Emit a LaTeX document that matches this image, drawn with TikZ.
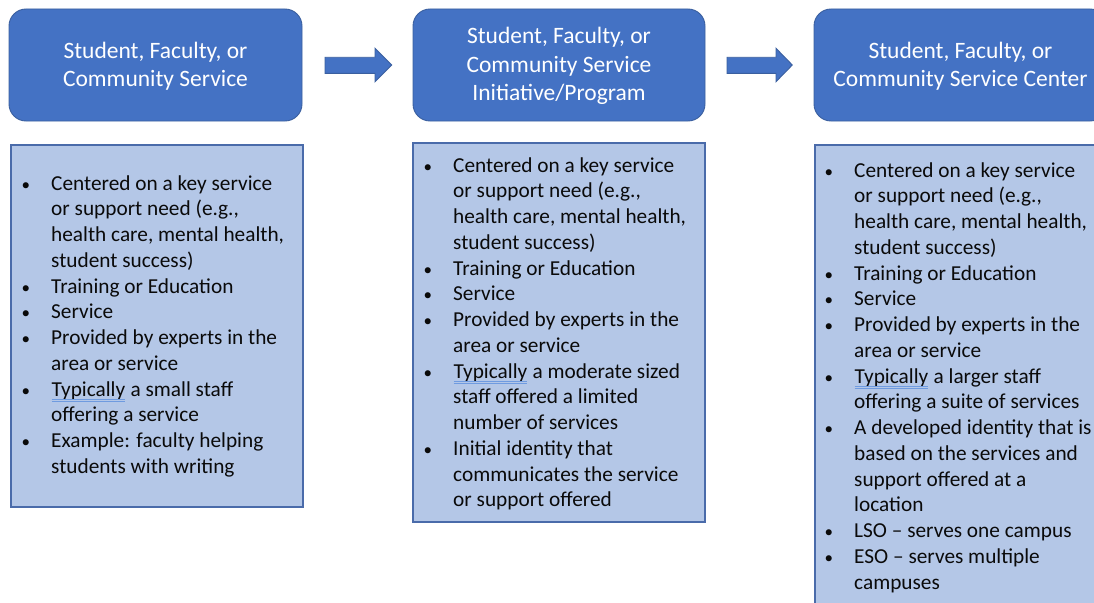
\documentclass[tikz,border=0pt]{standalone}
\usepackage{fontspec}
\setmainfont{Carlito}
\usepackage{array}
\definecolor{hdfill}{HTML}{4472C4}
\definecolor{hdline}{HTML}{3A5F9F}
\definecolor{bdfill}{HTML}{B4C7E7}
\definecolor{bdline}{HTML}{4A6BAA}
\definecolor{txt}{HTML}{0A0A0A}
\definecolor{spell}{HTML}{6F9BE0}
\tikzset{
  header/.style={draw=hdline, line width=0.9pt, fill=hdfill, rounded corners=17pt},
  body/.style={draw=bdline, line width=1.2pt, fill=bdfill},
  htext/.style={text=white, align=center, font=\fontsize{23.5}{28.5}\selectfont, inner sep=0pt},
  btext/.style={text=txt, anchor=north west, inner sep=0pt, font=\fontsize{21.3}{25.75}\selectfont},
  blockarrow/.style={draw=hdline, line width=0.9pt, fill=hdfill},
}
\newcommand{\spellu}[1]{\tikz[baseline=(w.base)]{\node[inner sep=0pt] (w) {#1};
  \draw[spell, line width=0.6pt] ([yshift=-3.2pt]w.base west) -- ([yshift=-3.2pt]w.base east);
  \draw[spell, line width=0.6pt] ([yshift=-4.6pt]w.base west) -- ([yshift=-4.6pt]w.base east);}}
\newcommand{\bl}{\makebox[29.5pt][l]{\scalebox{0.8}{•}}}
\begin{document}
\begin{tikzpicture}[x=1pt, y=-1pt]
\useasboundingbox (0,0) rectangle (1094,602);
\clip (0,0) rectangle (1094,602);
% header boxes
\draw[header] (9,9) rectangle (302,121);
\node[htext] (h1) at (155.5,66) {Student, Faculty, or\\Community Service};
\draw[header] (413,9) rectangle (705,121);
\node[htext] (h2) at (559,66) {Student, Faculty, or\\Community Service\\Initiative/Program};
\draw[header] (814,9) rectangle (1107,121);
\node[htext] (h3) at (960.5,66) {Student, Faculty, or\\Community Service Center};
% arrows
\draw[blockarrow] (325,57.3) -- (375,57.3) -- (375,48.3) -- (391.7,65) -- (375,81.7) -- (375,73.3) -- (325,73.3) -- cycle;
\draw[blockarrow] (727,57.3) -- (776,57.3) -- (776,48.3) -- (792.3,65) -- (776,81.7) -- (776,73.3) -- (727,73.3) -- cycle;
% body boxes
\draw[body] (11,145) rectangle (303,507);
\draw[body] (413,143) rectangle (705,522);
\draw[body] (815,145) rectangle (1107,640);
\node[btext] (b1) at (21.5,172) {%
\begin{tabular}{@{}l@{}l@{}}
\bl & Centered on a key service\\
 & or support need (e.g.,\\
 & health care, mental health,\\
 & student success)\\
\bl & Training or Education\\
\bl & Service\\
\bl & Provided by experts in the\\
 & area or service\\
\bl & \spellu{Typically} a small staff\\
 & offering a service\\
\bl & Example: faculty helping\\
 & students with writing
\end{tabular}};
\node[btext] (b2) at (423.5,154) {%
\begin{tabular}{@{}l@{}l@{}}
\bl & Centered on a key service\\
 & or support need (e.g.,\\
 & health care, mental health,\\
 & student success)\\
\bl & Training or Education\\
\bl & Service\\
\bl & Provided by experts in the\\
 & area or service\\
\bl & \spellu{Typically} a moderate sized\\
 & staff offered a limited\\
 & number of services\\
\bl & Initial identity that\\
 & communicates the service\\
 & or support offered
\end{tabular}};
\node[btext] (b3) at (824.5,159) {%
\begin{tabular}{@{}l@{}l@{}}
\bl & Centered on a key service\\
 & or support need (e.g.,\\
 & health care, mental health,\\
 & student success)\\
\bl & Training or Education\\
\bl & Service\\
\bl & Provided by experts in the\\
 & area or service\\
\bl & \spellu{Typically} a larger staff\\
 & offering a suite of services\\
\bl & A developed identity that is\\
 & based on the services and\\
 & support offered at a\\
 & location\\
\bl & LSO – serves one campus\\
\bl & ESO – serves multiple\\
 & campuses
\end{tabular}};
\end{tikzpicture}
\end{document}
